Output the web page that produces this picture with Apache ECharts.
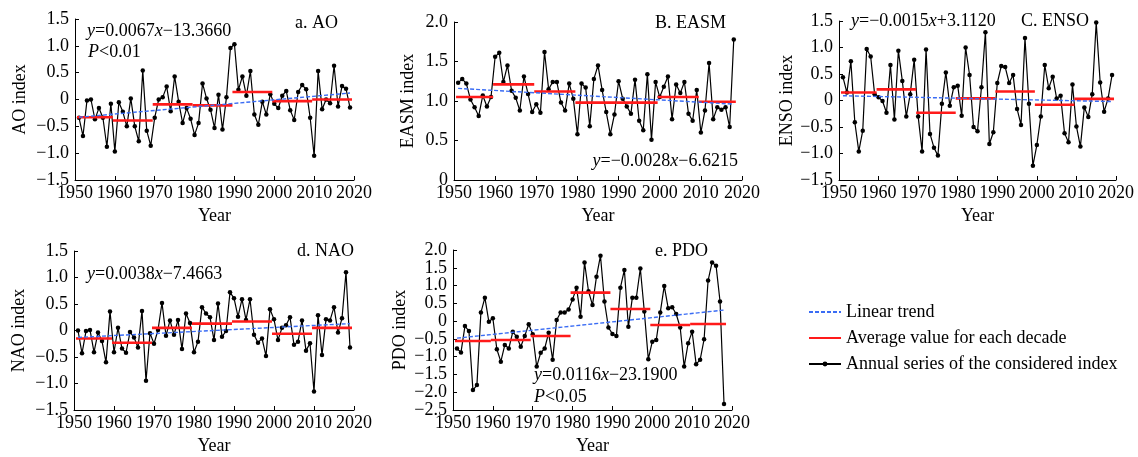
<!DOCTYPE html>
<html><head><meta charset="utf-8">
<script src="https://cdn.jsdelivr.net/npm/echarts@6/dist/echarts.min.js"></script>
<style>html,body{margin:0;padding:0;background:#fff}#c{width:1138px;height:457px}</style>
</head><body><div id="c"></div>
<script>
// ---------- data ----------
const years = [1951,1952,1953,1954,1955,1956,1957,1958,1959,1960,1961,1962,1963,1964,1965,1966,1967,1968,1969,1970,
1971,1972,1973,1974,1975,1976,1977,1978,1979,1980,1981,1982,1983,1984,1985,1986,1987,1988,1989,1990,
1991,1992,1993,1994,1995,1996,1997,1998,1999,2000,2001,2002,2003,2004,2005,2006,2007,2008,2009,2010,
2011,2012,2013,2014,2015,2016,2017,2018,2019];
const decadeStarts = [1950,1960,1970,1980,1990,2000,2010];
const xTicks = {min:1950, max:2020, step:10};

const aoValues = [-0.34,-0.68,-0.02,0.00,-0.37,-0.16,-0.34,-0.88,-0.08,
 -0.97,-0.05,-0.23,-0.50,0.02,-0.50,-0.78,0.54,-0.58,-0.86,
 -0.34,0.00,0.04,0.24,-0.22,0.43,-0.04,-0.44,-0.16,-0.36,
 -0.66,-0.44,0.30,0.02,-0.19,-0.53,0.09,-0.56,0.04,0.96,
 1.03,0.18,0.43,0.07,0.53,-0.28,-0.47,-0.04,-0.28,0.10,
 -0.08,-0.16,0.07,0.16,-0.20,-0.38,0.14,0.27,0.19,-0.34,
 -1.05,0.53,-0.18,0.00,-0.07,0.63,-0.13,0.25,0.20,-0.15];
const aoDecade = [-0.33,-0.39,-0.09,-0.11,0.14,-0.03,0.00];
const aoTrend = [-0.33,0.12];

const easmValues = [1.23,1.28,1.22,1.02,0.92,0.81,1.07,0.93,1.05,
 1.56,1.61,1.24,1.45,1.13,1.04,0.88,1.31,1.09,0.86,
 0.96,0.85,1.62,1.15,1.24,1.24,0.98,0.88,1.22,1.03,
 0.58,1.22,1.17,0.68,1.28,1.45,1.14,0.86,0.58,0.83,
 1.25,1.03,0.93,0.84,1.27,0.75,0.63,1.34,0.51,1.24,
 1.05,1.18,1.31,0.77,1.21,1.10,1.24,0.84,0.75,1.14,
 0.60,0.88,1.48,0.77,0.92,0.89,0.92,0.67,1.78];
const easmDecade = [1.05,1.21,1.12,0.98,0.98,1.05,0.99];
const easmTrend = [1.16,0.96];

const ensoValues = [0.44,0.15,0.74,-0.41,-0.96,-0.57,0.97,0.83,0.12,
 0.06,-0.01,-0.23,0.67,-0.36,0.94,0.37,-0.30,0.12,0.77,
 -0.30,-0.96,0.96,-0.63,-0.89,-1.04,-0.06,0.53,-0.10,0.25,
 0.28,-0.29,1.00,0.48,-0.50,-0.58,0.25,1.29,-0.82,-0.60,
 0.33,0.65,0.63,0.33,0.48,-0.16,-0.46,1.18,-0.06,-1.23,
 -0.84,-0.30,0.67,0.23,0.45,0.04,0.09,-0.62,-0.79,0.30,
 -0.49,-0.87,-0.13,-0.31,0.12,1.47,0.34,-0.21,0.04,0.48];
const ensoDecade = [0.15,0.21,-0.23,0.04,0.17,-0.08,0.03];
const ensoTrend = [0.09,-0.02];

const naoValues = [0.00,-0.43,-0.01,0.01,-0.41,-0.04,-0.20,-0.60,0.36,
 -0.41,0.05,-0.34,-0.42,-0.03,-0.13,-0.32,0.37,-0.95,-0.05,
 -0.25,0.01,0.52,-0.10,0.19,-0.08,0.20,-0.35,0.32,0.14,
 -0.41,-0.21,0.44,0.32,0.25,-0.18,0.51,-0.12,-0.01,0.72,
 0.61,0.26,0.59,0.20,0.59,-0.08,-0.23,-0.15,-0.48,0.40,
 0.21,-0.18,0.05,0.10,0.25,-0.27,-0.21,0.19,-0.38,-0.24,
 -1.15,0.29,-0.46,0.21,0.19,0.44,-0.04,0.23,1.10,-0.32];
const naoDecade = [-0.15,-0.23,0.05,0.13,0.17,-0.06,0.05];
const naoTrend = [-0.13,0.13];

const pdoValues = [-0.77,-0.88,-0.14,-0.28,-1.94,-1.80,0.24,0.66,-0.02,
 0.08,-0.79,-1.14,-0.67,-0.77,-0.30,-0.44,-0.72,-0.42,-0.09,
 -0.37,-1.28,-0.89,-0.77,-0.33,-1.09,0.03,0.24,0.24,0.33,
 0.61,0.94,0.12,1.65,0.84,0.45,1.25,1.84,0.55,-0.18,
 -0.36,-0.42,0.94,1.44,-0.16,0.66,0.66,1.48,0.27,-1.07,
 -0.58,-0.53,0.24,0.99,0.36,0.39,0.20,-0.18,-1.28,-0.62,
 -0.30,-1.21,-1.09,-0.51,1.14,1.65,1.56,0.55,-2.33];
const pdoDecade = [-0.56,-0.53,-0.42,0.80,0.34,-0.11,-0.08];
const pdoTrend = [-0.48,0.31];

const yNames = ['AO index','EASM index','ENSO index','NAO index','PDO index'];
const yRanges = [[-1.5,1.5],[0,2],[-1.5,1.5],[-1.5,1.5],[-2.5,2]];
const yStep = 0.5;
// PDO tick labels, split in two interleaved sets so the dense labels all stay visible
const pdoLabelsA = [-2,-1,0,1,2];
const pdoLabelsB = [-2.5,-1.5,-0.5,0.5,1.5];
const legendNames = ['Linear trend','Average value for each decade','Annual series of the considered index'];

// ---------- layout / style ----------
const FONT = '"Liberation Serif", "Times New Roman", serif';
const FS = 18;
const grids = [
  {left:75, top:19, width:279, height:161},
  {left:454, top:22, width:288, height:158},
  {left:839, top:21, width:277, height:159},
  {left:74, top:251, width:280, height:159},
  {left:453, top:250, width:279, height:160}
];
const yNameGaps = [46, 37, 41, 46, 44];
const panels = [
  {vals:aoValues, dec:aoDecade, trend:aoTrend},
  {vals:easmValues, dec:easmDecade, trend:easmTrend},
  {vals:ensoValues, dec:ensoDecade, trend:ensoTrend},
  {vals:naoValues, dec:naoDecade, trend:naoTrend},
  {vals:pdoValues, dec:pdoDecade, trend:pdoTrend}
];

const fmtY = v => Math.abs(v) < 1e-9 ? '0' : (v < 0 ? '\u2212' : '') + Math.abs(v).toFixed(1);
const fmtX = v => String(Math.round(v));
const txt = {color:'#000', fontFamily:FONT, fontSize:FS};

const xAxis = [], yAxis = [], series = [];
panels.forEach((p, i) => {
  xAxis.push({
    gridIndex:i, type:'value', min:xTicks.min, max:xTicks.max, interval:xTicks.step,
    axisLine:{show:true, onZero:false, lineStyle:{color:'#000', width:1}},
    axisTick:{show:true, inside:true, length:4, lineStyle:{color:'#000'}},
    splitLine:{show:false},
    axisLabel:Object.assign({margin:4, formatter:fmtX, showMinLabel:true, showMaxLabel:true}, txt),
    name:'Year', nameLocation:'middle', nameGap:27, nameTextStyle:txt
  });
  const yLabel = Object.assign({margin:6, formatter:fmtY, showMinLabel:true, showMaxLabel:true}, txt);
  if (i === 4) yLabel.customValues = pdoLabelsA;
  yAxis.push({
    gridIndex:i, type:'value', min:yRanges[i][0], max:yRanges[i][1], interval:yStep,
    axisLine:{show:true, onZero:false, lineStyle:{color:'#000', width:1}},
    axisTick:{show:true, inside:true, length:4, lineStyle:{color:'#000'}},
    splitLine:{show:false},
    axisLabel:yLabel,
    name:yNames[i], nameLocation:'middle', nameGap:yNameGaps[i], nameTextStyle:txt
  });
  const yrs = years.slice(0, p.vals.length);
  const first = yrs[0], last = yrs[yrs.length-1];
  series.push({
    name:legendNames[2], type:'line', xAxisIndex:i, yAxisIndex:i, z:2,
    data:yrs.map((y,k)=>[y,p.vals[k]]),
    symbol:'circle', symbolSize:4.5, showSymbol:true,
    lineStyle:{color:'#000', width:1.2}, itemStyle:{color:'#000'}
  });
  decadeStarts.forEach((d,k) => {
    const x0 = Math.max(d, first) - 0.5, x1 = Math.min(d + 9, last) + 0.5;
    series.push({
      name:legendNames[1], type:'line', xAxisIndex:i, yAxisIndex:i, z:3,
      data:[[x0,p.dec[k]],[x1,p.dec[k]]], symbol:'none',
      lineStyle:{color:'#ff1a1a', width:2.6}, itemStyle:{color:'#ff1a1a'}
    });
  });
  series.push({
    name:legendNames[0], type:'line', xAxisIndex:i, yAxisIndex:i, z:4,
    data:[[first,p.trend[0]],[last,p.trend[1]]], symbol:'none',
    lineStyle:{color:'#3a6cf4', width:1.4, type:[4,2]}, itemStyle:{color:'#3a6cf4'}
  });
});
// second label layer for the PDO axis
yAxis.push({
  gridIndex:4, type:'value', position:'left', offset:0,
  min:yRanges[4][0], max:yRanges[4][1], interval:yStep,
  axisLine:{show:false}, axisTick:{show:false}, splitLine:{show:false},
  axisLabel:Object.assign({margin:6, formatter:fmtY, customValues:pdoLabelsB,
    showMinLabel:true, showMaxLabel:true}, txt)
});

const rich = {i:{fontStyle:'italic', fontFamily:FONT, fontSize:FS, fill:'#000', color:'#000'}};
function label(text, x, y, align) {
  return {type:'text', x:x, y:y, z:10, silent:true,
    style:{text:text, fill:'#000', font:FS + 'px ' + FONT, textAlign:align || 'left',
      textVerticalAlign:'middle', rich:rich}};
}
const graphic = [
  label('a. AO', 338, 23, 'right'),
  label('{i|y}=0.0067{i|x}\u221213.3660', 87, 31),
  label('{i|P}<0.01', 88, 52),
  label('B. EASM', 726, 23, 'right'),
  label('{i|y}=\u22120.0028{i|x}\u22126.6215', 738, 161, 'right'),
  label('{i|y}=\u22120.0015{i|x}+3.1120', 851, 21),
  label('C. ENSO', 1089, 21, 'right'),
  label('d. NAO', 354, 251, 'right'),
  label('{i|y}=0.0038{i|x}\u22127.4663', 87, 274),
  label('e. PDO', 708, 251, 'right'),
  label('{i|y}=0.0116{i|x}\u221223.1900', 534, 375),
  label('{i|P}<0.05', 534, 397)
];

const hidden = {color:'rgba(0,0,0,0)', borderColor:'rgba(0,0,0,0)', borderWidth:0, opacity:0};
const chart = echarts.init(document.getElementById('c'), null, {renderer:'canvas'});
chart.setOption({
  animation:false,
  backgroundColor:'#fff',
  grid:grids.map(g=>Object.assign({containLabel:false}, g)),
  xAxis:xAxis, yAxis:yAxis, series:series, graphic:graphic,
  legend:{
    data:[
      {name:legendNames[0], itemStyle:hidden},
      {name:legendNames[1], itemStyle:hidden},
      {name:legendNames[2]}
    ],
    orient:'vertical', left:803, top:298,
    itemWidth:32, itemHeight:6, itemGap:8, itemTextGap:10,
    selectedMode:false,
    textStyle:{color:'#000', fontFamily:FONT, fontSize:FS, lineHeight:18}
  }
});
</script></body></html>
